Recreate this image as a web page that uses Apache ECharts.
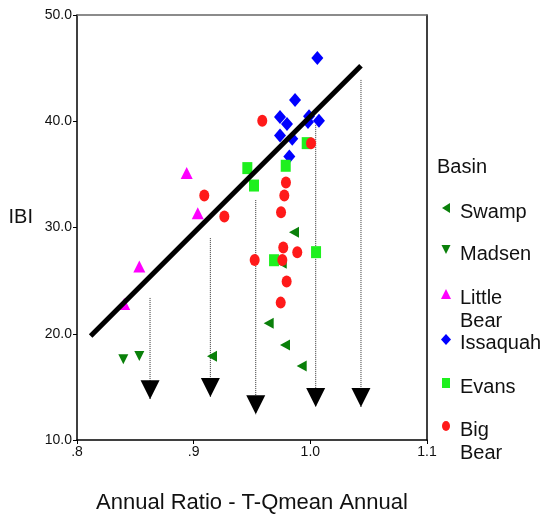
<!DOCTYPE html>
<html>
<head>
<meta charset="utf-8">
<script src="https://cdn.jsdelivr.net/npm/echarts@6/dist/echarts.min.js"></script>
<style>
html,body{margin:0;padding:0;background:#fff;}
#c{width:543px;height:514px;}
</style>
</head>
<body>
<div id="c"></div>
<script>
// ---- data ----
var xTicks = [0.8, 0.9, 1.0, 1.1];
var yTicks = [10, 20, 30, 40, 50];
var seriesNames = ['Swamp', 'Madsen', 'Little Bear', 'Issaquah', 'Evans', 'Big Bear'];

var swampX = [0.9860, 0.9755, 0.9643, 0.9783, 0.9926, 0.9157];
var swampY = [29.56, 26.64, 20.99, 18.95, 16.97, 17.88];
var madsenX = [0.8397, 0.8534];
var madsenY = [17.60, 17.91];
var littleX = [0.8940, 0.9035, 0.8534, 0.8405];
var littleY = [35.12, 31.35, 26.32, 22.81];
var issaquahX = [1.0060, 0.9869, 0.9740, 0.9800, 0.9989, 0.9980, 1.0074, 0.9740, 0.9845, 0.9820];
var issaquahY = [45.95, 41.99, 40.39, 39.73, 40.46, 39.94, 40.04, 38.66, 38.35, 36.68];
var evansX = [0.9969, 0.9460, 0.9789, 0.9517, 0.9689, 1.0049];
var evansY = [37.94, 35.59, 35.81, 33.95, 26.92, 27.68];
var bigX = [0.9588, 1.0006, 0.9791, 0.9777, 0.9749, 0.9768, 0.9888, 0.9523, 0.9760, 0.9797, 0.9746, 0.9091, 0.9263];
var bigY = [40.04, 37.94, 34.23, 33.01, 31.44, 28.11, 27.68, 26.95, 26.95, 24.91, 22.93, 33.01, 31.03];

var fitX = [0.8117, 1.0434];
var fitY = [19.79, 45.22];

var arrowX = [0.8626, 0.9143, 0.9532, 1.0046, 1.0434];
var arrowFrom = [23.37, 29.00, 32.58, 39.66, 43.89];
var arrowTo = [13.83, 14.05, 12.42, 13.11, 13.11];

// ---- build ----
function pairs(xs, ys) { return xs.map(function (x, i) { return [x, ys[i]]; }); }
var FONT = 'Liberation Sans, Arial, sans-serif';

var styles = {
  'Swamp':       { symbol: 'triangle', size: [11, 10], rotate: 90,  color: '#0a800a',
                   icon: 'M9,0 L9,10 L1,5 Z' },
  'Madsen':      { symbol: 'triangle', size: [10, 10], rotate: 180, color: '#0a800a',
                   icon: 'M0.5,0 L9.5,0 L5,9 Z' },
  'Little Bear': { symbol: 'triangle', size: [12, 12], rotate: 0,   color: '#ff00ff',
                   icon: 'M0,10 L10,10 L5,0 Z' },
  'Issaquah':    { symbol: 'diamond',  size: [12, 14], rotate: 0,   color: '#0000ff',
                   icon: 'M5,0 L10,5.5 L5,11 L0,5.5 Z' },
  'Evans':       { symbol: 'rect',     size: [10, 12], rotate: 0,   color: '#1ef01e',
                   icon: 'M1,0 L9,0 L9,10 L1,10 Z' },
  'Big Bear':    { symbol: 'circle',   size: [10, 12], rotate: 0,   color: '#ff1a1a',
                   icon: 'M5,0 A4,5 0 1,1 5,10 A4,5 0 1,1 5,0 Z' }
};
var groupData = {
  'Swamp': pairs(swampX, swampY),
  'Madsen': pairs(madsenX, madsenY),
  'Little Bear': pairs(littleX, littleY),
  'Issaquah': pairs(issaquahX, issaquahY),
  'Evans': pairs(evansX, evansY),
  'Big Bear': pairs(bigX, bigY)
};

var series = [];
arrowX.forEach(function (x, i) {
  series.push({
    type: 'line', silent: true, symbol: 'none', z: 1,
    data: [[x, arrowFrom[i]], [x, arrowTo[i]]],
    lineStyle: { color: '#333', width: 1, type: [1, 1] }
  });
});
seriesNames.forEach(function (n) {
  var s = styles[n];
  series.push({
    type: 'scatter', name: n, z: 2,
    symbol: s.symbol, symbolSize: s.size, symbolRotate: s.rotate,
    itemStyle: { color: s.color, opacity: 1 },
    data: groupData[n]
  });
});
series.push({
  type: 'line', silent: true, symbol: 'none', z: 3,
  data: pairs(fitX, fitY),
  lineStyle: { color: '#000', width: 5 }
});
series.push({
  type: 'scatter', silent: true, z: 4,
  symbol: 'triangle', symbolSize: [19, 19], symbolRotate: 180, symbolOffset: [0, -9.5],
  itemStyle: { color: '#000', opacity: 1 },
  data: pairs(arrowX, arrowTo)
});

// legend: one block per item so the spacing matches the reference
var iconCenters = [208, 250, 294, 339, 383, 426];
var legends = seriesNames.map(function (n, i) {
  var two = n.indexOf(' ') > 0;
  var H = two ? 41 : 18;
  return {
    data: [n], left: 441, padding: 0,
    top: iconCenters[i] - 7.5,
    itemWidth: 10, itemHeight: H, selectedMode: false,
    icon: 'path://M0,0 M10,' + H + ' ' + styles[n].icon,
    formatter: function (name) { return name.replace(' ', '\n'); },
    textStyle: { fontFamily: FONT, fontSize: 20, color: '#111', lineHeight: 23,
                 padding: [0, 0, 0, 4] }
  };
});

var option = {
  backgroundColor: '#fff',
  animation: false,
  title: { text: 'Basin', left: 437, top: 157, padding: 0,
           textStyle: { fontFamily: FONT, fontSize: 20, fontWeight: 'normal', color: '#111' } },
  legend: legends,
  grid: { left: 77, right: 116, top: 15, bottom: 74, containLabel: false, outerBoundsMode: 'none' },
  xAxis: [{
    type: 'value', min: xTicks[0], max: xTicks[xTicks.length - 1], interval: 0.1,
    name: 'Annual Ratio - T-Qmean Annual', nameLocation: 'middle', nameGap: 52,
    nameTextStyle: { fontFamily: FONT, fontSize: 22, color: '#111' },
    axisLine: { show: true, lineStyle: { color: '#000', width: 1.5 } },
    axisTick: { show: true, length: 4, lineStyle: { color: '#000' } },
    axisLabel: { margin: 5, fontFamily: FONT, fontSize: 14, color: '#111',
                 formatter: function (v) { return v.toFixed(1).replace(/^0/, ''); } },
    splitLine: { show: false }
  }, {
    type: 'value', position: 'top', min: xTicks[0], max: xTicks[xTicks.length - 1],
    axisLine: { show: true, lineStyle: { color: '#666', width: 1.5 } },
    axisTick: { show: false }, axisLabel: { show: false }, splitLine: { show: false }
  }],
  yAxis: [{
    type: 'value', min: yTicks[0], max: yTicks[yTicks.length - 1], interval: 10,
    name: 'IBI', nameLocation: 'middle', nameGap: 44, nameRotate: 0,
    nameTextStyle: { fontFamily: FONT, fontSize: 20, color: '#111', verticalAlign: 'bottom', lineHeight: 20 },
    axisLine: { show: true, lineStyle: { color: '#000', width: 1.5 } },
    axisTick: { show: true, length: 4, lineStyle: { color: '#000' } },
    axisLabel: { margin: 5, fontFamily: FONT, fontSize: 14, color: '#111',
                 formatter: function (v) { return v.toFixed(1); } },
    splitLine: { show: false }
  }, {
    type: 'value', position: 'right', min: yTicks[0], max: yTicks[yTicks.length - 1],
    axisLine: { show: true, lineStyle: { color: '#000', width: 1.5 } },
    axisTick: { show: false }, axisLabel: { show: false }, splitLine: { show: false }
  }],
  series: series
};

var chart = echarts.init(document.getElementById('c'), null, { renderer: 'canvas' });
chart.setOption(option);
</script>
</body>
</html>
